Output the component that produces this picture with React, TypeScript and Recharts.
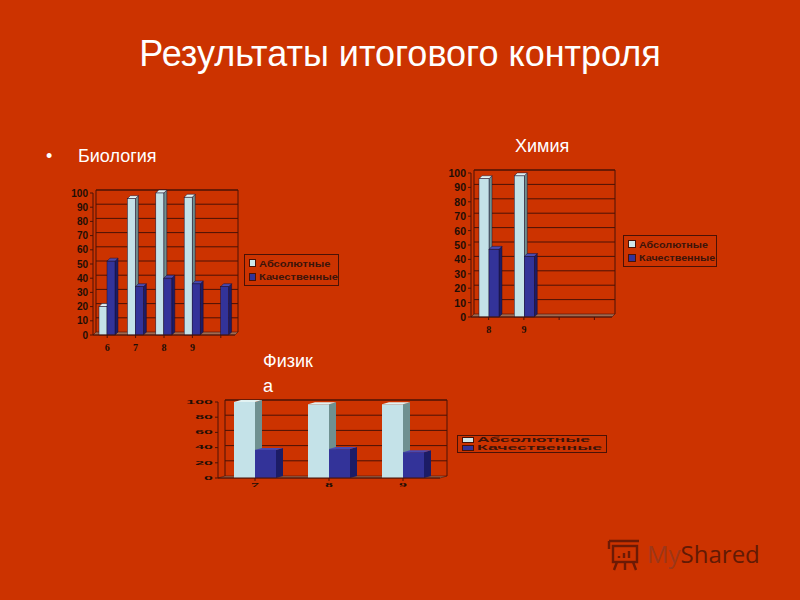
import { BarChart, Bar, XAxis, YAxis, CartesianGrid, Legend, ReferenceArea } from 'recharts'

const BIO_CATEGORIES = ['6', '7', '8', '9', '']
const BIO_ABSOLUTE = [20, 96, 100, 97, null]
const BIO_QUALITY = [52, 34, 40, 36, 34]

const CHEM_CATEGORIES = ['8', '9', '', '']
const CHEM_ABSOLUTE = [96, 98, null, null]
const CHEM_QUALITY = [47, 42, null, null]

const PHYS_CATEGORIES = ['7', '8', '9']
const PHYS_ABSOLUTE = [100, 97, 97]
const PHYS_QUALITY = [37, 38, 34]

const TICKS_10 = [0, 10, 20, 30, 40, 50, 60, 70, 80, 90, 100]
const TICKS_20 = [0, 20, 40, 60, 80, 100]

const SERIES_ABSOLUTE = 'Абсолютные'
const SERIES_QUALITY = 'Качественные'

const LINE = '#4a1206'
const TEXT = '#1e0e06'

const buildRows = (categories: string[], absolute: (number | null)[], quality: (number | null)[]) =>
  categories.map((category, i) => ({ category, absolute: absolute[i], quality: quality[i] }))

const Bar3D = ({ x, y, width, height, front, top, side, stroke, dx, dy }: any) => {
  if (!height || height <= 0) return null
  return (
    <g stroke={stroke} strokeWidth={0.5}>
      <polygon fill={side} points={`${x + width},${y} ${x + width + dx},${y - dy} ${x + width + dx},${y + height - dy} ${x + width},${y + height}`} />
      <polygon fill={top} points={`${x},${y} ${x + dx},${y - dy} ${x + width + dx},${y - dy} ${x + width},${y}`} />
      <rect x={x} y={y} width={width} height={height} fill={front} />
    </g>
  )
}

const Walls = ({ x, y, width, height, dx, dy }: any) => {
  const bottom = y + height
  const right = x + width
  return (
    <g>
      <polygon
        points={`${x},${bottom} ${x + dx},${bottom - dy} ${right + dx},${bottom - dy} ${right},${bottom}`}
        fill="#a06a50"
        stroke={LINE}
        strokeWidth={0.6}
      />
      <polyline
        points={`${x + dx},${bottom - dy} ${x + dx},${y - dy} ${right + dx},${y - dy} ${right + dx},${bottom - dy}`}
        fill="none"
        stroke={LINE}
        strokeWidth={1}
      />
    </g>
  )
}

const StretchTick = ({ x, y, payload, sx, sy, anchor, family, size, shift = 0 }: any) => (
  <text
    transform={`translate(${x},${y + shift}) scale(${sx},${sy})`}
    textAnchor={anchor}
    dominantBaseline="central"
    fontFamily={family}
    fontSize={size}
    fontWeight="bold"
    fill={TEXT}
  >
    {payload.value}
  </text>
)

const LegendBox = ({ width, height, fontSize, sx, sy, swatchW, swatchH }: any) => {
  const items = [
    { label: SERIES_ABSOLUTE, color: '#cfe8ea' },
    { label: SERIES_QUALITY, color: '#333399' },
  ]
  return (
    <div
      style={{
        boxSizing: 'border-box',
        width,
        height,
        border: `1px solid ${LINE}`,
        display: 'flex',
        flexDirection: 'column',
        justifyContent: 'space-evenly',
        paddingLeft: 4,
      }}
    >
      {items.map((item) => (
        <div key={item.label} style={{ display: 'flex', alignItems: 'center', height: fontSize }}>
          <span
            style={{
              display: 'inline-block',
              flex: 'none',
              width: swatchW,
              height: swatchH,
              marginRight: 3,
              background: item.color,
              border: `1px solid ${LINE}`,
            }}
          />
          <span
            style={{
              fontFamily: '"Liberation Sans", sans-serif',
              fontSize,
              fontWeight: 'bold',
              color: '#3c140a',
              whiteSpace: 'nowrap',
              transform: `scale(${sx},${sy})`,
              transformOrigin: 'left center',
            }}
          >
            {item.label}
          </span>
        </div>
      ))}
    </div>
  )
}

const Panel = ({ box, plot, rows, ticks, barSize, dx, dy, labelSx, labelSy, yFont, xFont, xShift, outline, legend }: any) => {
  const margin = {
    top: plot.top - box.top,
    left: plot.left - box.left - 26,
    right: box.left + box.width - plot.right,
    bottom: box.top + box.height - plot.bottom - 20,
  }
  return (
    <div style={{ position: 'absolute', left: box.left, top: box.top }}>
      <BarChart width={box.width} height={box.height} data={rows} margin={margin} barGap={0} barSize={barSize}>
        <ReferenceArea y1={0} y2={100} fill="none" stroke="none" shape={<Walls dx={dx} dy={dy} />} />
        <CartesianGrid
          vertical={false}
          horizontal={(p: any) =>
            p.index === 0 ? <g key={p.key} /> : (
              <line key={p.key} x1={p.x1 + dx} y1={p.y1 - dy} x2={p.x2 + dx} y2={p.y2 - dy} stroke={LINE} strokeWidth={1} />
            )
          }
        />
        <XAxis
          dataKey="category"
          interval={0}
          height={20}
          axisLine={{ stroke: LINE }}
          tickLine={{ stroke: LINE }}
          tickSize={3}
          tick={<StretchTick sx={labelSx} sy={labelSy} anchor="middle" family={'"Liberation Serif", serif'} size={xFont} shift={xShift} />}
          tickMargin={8}
        />
        <YAxis
          type="number"
          width={26}
          domain={[0, 100]}
          ticks={ticks}
          interval={0}
          axisLine={{ stroke: LINE }}
          tickLine={{ stroke: LINE }}
          tickSize={3}
          tick={<StretchTick sx={labelSx} sy={labelSy} anchor="end" family={'"Liberation Sans", sans-serif'} size={yFont} />}
        />
        <Bar
          dataKey="absolute"
          name={SERIES_ABSOLUTE}
          isAnimationActive={false}
          fill="#c4e2e8"
          shape={<Bar3D front="#c4e2e8" top="#e2f2f2" side="#6f9090" stroke={outline} dx={dx} dy={dy} />}
        />
        <Bar
          dataKey="quality"
          name={SERIES_QUALITY}
          isAnimationActive={false}
          fill="#333399"
          shape={<Bar3D front="#333399" top="#4a4ab0" side="#1c1c66" stroke={outline} dx={dx} dy={dy} />}
        />
        <Legend
          layout="vertical"
          align="center"
          verticalAlign="middle"
          wrapperStyle={{ left: legend.left - box.left, top: legend.top - box.top, width: legend.width, height: legend.height }}
          content={() => <LegendBox {...legend} />}
        />
      </BarChart>
    </div>
  )
}

const Label = ({ left, top, size, children }: any) => (
  <div
    style={{
      position: 'absolute',
      left,
      top,
      fontFamily: '"Liberation Sans", Arial, sans-serif',
      fontSize: size,
      lineHeight: 1,
      color: '#ffffff',
      whiteSpace: 'nowrap',
    }}
  >
    {children}
  </div>
)

const Watermark = () => (
  <div style={{ position: 'absolute', left: 607, top: 537, width: 160, height: 36, opacity: 0.85 }}>
    <svg width={36} height={36} style={{ position: 'absolute', left: 0, top: 0 }}>
      <g fill="none" stroke="#5c1606" strokeWidth={2.4}>
        <rect x={6} y={9} width={24} height={16} />
        <path d="M2 4 H32 M2 4 V12 M10 25 L7 33 M18 25 V33 M26 25 L29 33" />
        <path d="M12 21 V19 M17 21 V16 M22 21 V14" />
      </g>
    </svg>
    <div
      style={{
        position: 'absolute',
        left: 40,
        top: 2,
        fontFamily: '"Open Sans", sans-serif',
        fontSize: 24,
        lineHeight: '30px',
        whiteSpace: 'nowrap',
        color: '#501606',
      }}
    >
      <span style={{ color: '#94381e' }}>My</span>Shared
    </div>
  </div>
)

export default function App() {
  return (
    <div style={{ position: 'fixed', left: 0, top: 0, width: 800, height: 600, background: '#cc3300', overflow: 'hidden' }}>
      <div
        style={{
          position: 'absolute',
          left: 0,
          width: 800,
          top: 34,
          textAlign: 'center',
          fontFamily: '"Liberation Sans", Arial, sans-serif',
          fontSize: 36,
          lineHeight: '40px',
          color: '#ffffff',
        }}
      >
        Результаты итогового контроля
      </div>
      <Label left={46} top={147} size={18}>•</Label>
      <Label left={78} top={147} size={18}>Биология</Label>
      <Label left={515} top={137} size={18}>Химия</Label>
      <Label left={263} top={352} size={18}>Физик</Label>
      <Label left={263} top={377} size={18}>а</Label>

      <Panel
        box={{ left: 60, top: 180, width: 290, height: 175 }}
        plot={{ left: 93, right: 235, top: 193, bottom: 335 }}
        rows={buildRows(BIO_CATEGORIES, BIO_ABSOLUTE, BIO_QUALITY)}
        ticks={TICKS_10}
        barSize={8}
        dx={3}
        dy={3}
        labelSx={1}
        labelSy={1}
        yFont={10}
        xFont={10}
        xShift={1}
        outline="#1a1030"
        legend={{ left: 244, top: 254, width: 95, height: 32, fontSize: 9.5, sx: 1.17, sy: 1.05, swatchW: 5, swatchH: 6 }}
      />
      <Panel
        box={{ left: 440, top: 160, width: 290, height: 180 }}
        plot={{ left: 471, right: 612, top: 173, bottom: 317 }}
        rows={buildRows(CHEM_CATEGORIES, CHEM_ABSOLUTE, CHEM_QUALITY)}
        ticks={TICKS_10}
        barSize={10}
        dx={3}
        dy={3}
        labelSx={1}
        labelSy={1}
        yFont={10.5}
        xFont={10}
        xShift={1}
        outline="#1a1030"
        legend={{ left: 623, top: 235, width: 94, height: 32, fontSize: 9.5, sx: 1.13, sy: 1.05, swatchW: 6, swatchH: 6 }}
      />
      <Panel
        box={{ left: 170, top: 390, width: 450, height: 105 }}
        plot={{ left: 218, right: 440, top: 402, bottom: 478 }}
        rows={buildRows(PHYS_CATEGORIES, PHYS_ABSOLUTE, PHYS_QUALITY)}
        ticks={TICKS_20}
        barSize={21}
        dx={7}
        dy={2}
        labelSx={2}
        labelSy={0.7}
        yFont={8}
        xFont={8}
        xShift={-4}
        outline="none"
        legend={{ left: 457, top: 435, width: 150, height: 18, fontSize: 8, sx: 2.2, sy: 0.8, swatchW: 10, swatchH: 4 }}
      />
      <Watermark />
    </div>
  )
}
